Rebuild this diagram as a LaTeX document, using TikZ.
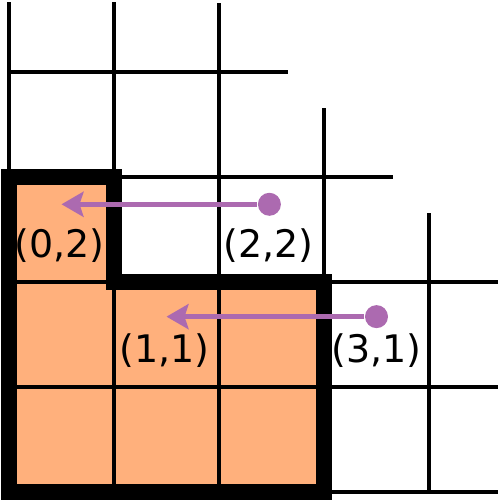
\documentclass[tikz,border=0pt]{standalone}
\usepackage{fontspec}
\setmainfont{DejaVu Sans}
\usetikzlibrary{arrows.meta}
\definecolor{cellorange}{RGB}{255,176,124}
\definecolor{hookpurple}{RGB}{172,106,176}
\begin{document}
\begin{tikzpicture}[
		x=1.05cm,y=1.05cm,
		every node/.style={font=\fontsize{10.8}{12}\selectfont},
		declare function={
			diag=6.66;
			ytop=4.667;
			xright=4.657;
		},
		gridline/.style={line width=1.3pt},
		shapeline/.style={line width=4.8pt,line join=miter},
		dot/.style={circle,fill=hookpurple,inner sep=0pt,minimum size=2.3mm},
		hook/.style={draw=hookpurple,line width=1.35pt,
			-{Stealth[length=2.2mm,width=2.5mm,inset=0.4mm,fill=hookpurple]}}
		]
		\useasboundingbox (-0.09cm,-0.11cm) rectangle (4.89cm,4.92cm);
		% cells of the shape
		\fill[cellorange] (0,0) -- (3,0) -- (3,2) -- (1,2) -- (1,3) -- (0,3) -- cycle;
		% grid, cut off along the diagonal
		\foreach \i in {0,...,4}{
			\draw[gridline] (\i,0) -- (\i,{min(ytop,diag-\i)});
			\draw[gridline] (0,\i) -- ({min(xright,diag-\i)},\i);
		}
		\draw[shapeline] (0,0) -- (3,0) -- (3,2) -- (1,2) -- (1,3) -- (0,3) -- cycle;
		% moves
		\node[dot] (d22) at (2.48,2.74) {};
		\coordinate (t02) at (0.5,2.74);
		\node[dot] (d31) at (3.5,1.67) {};
		\coordinate (t11) at (1.5,1.67);
		\draw[hook] (d22) -- (t02);
		\draw[hook] (d31) -- (t11);
		\node (l02) at (0.48,2.35) {(0,2)};
		\node (l22) at (2.47,2.35) {(2,2)};
		\node (l11) at (1.48,1.35) {(1,1)};
		\node (l31) at (3.5,1.35) {(3,1)};
	\end{tikzpicture}
\end{document}
